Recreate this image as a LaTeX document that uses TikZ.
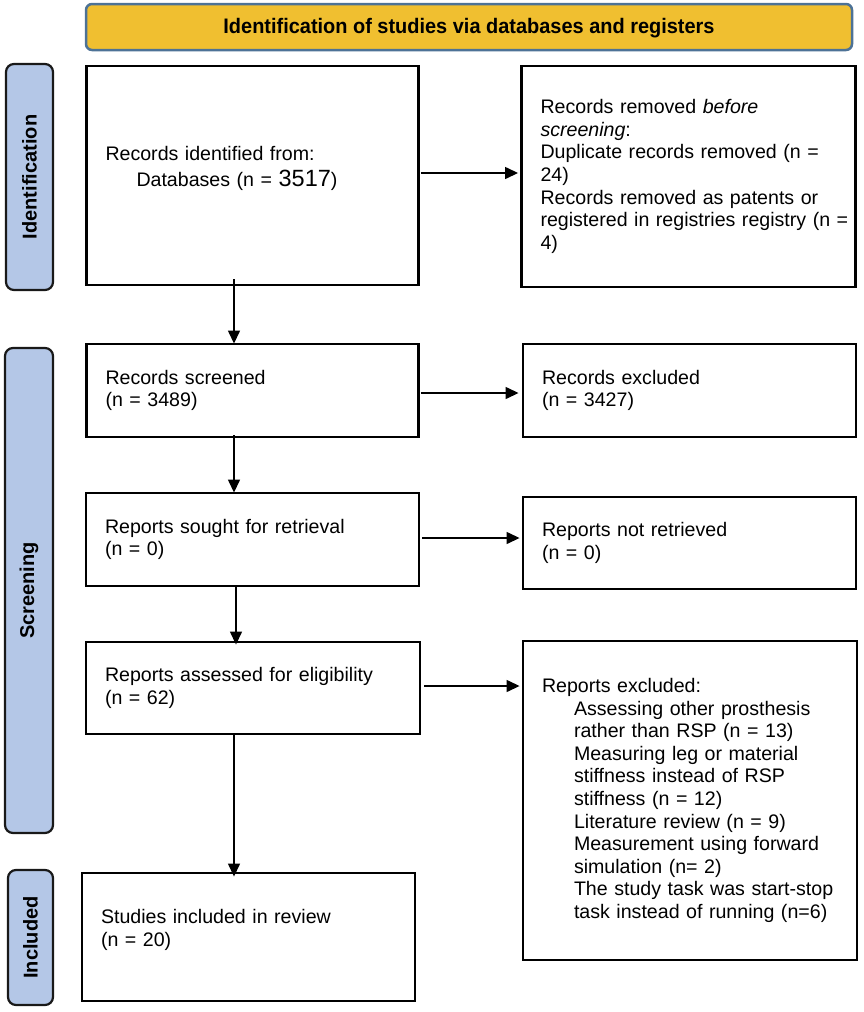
\documentclass[tikz,border=0pt]{standalone}
\usepackage{fontspec}
\setmainfont{Liberation Sans}
\newfontfamily\bannerfont[FakeStretch=0.95]{Liberation Sans}
\usetikzlibrary{arrows.meta}
\definecolor{bannerfill}{RGB}{240,191,48}
\definecolor{bannerdraw}{RGB}{77,114,150}
\definecolor{sidefill}{RGB}{180,199,231}
\definecolor{sidedraw}{RGB}{25,25,25}
\tikzset{
  box/.style={draw=black, fill=white, line width=2.9pt, rectangle, inner xsep=19pt, inner ysep=0pt,
    align=left, font=\fontsize{19.6}{22.6}\selectfont},
  side/.style={draw=sidedraw, fill=sidefill, line width=2.2pt, rounded corners=8pt, inner sep=0pt},
  sidetext/.style={font=\fontsize{20}{24}\selectfont\bfseries, rotate=90, inner sep=0pt},
  arr/.style={line width=1.4pt, -{Triangle[length=13pt,width=12pt]}},
}
\begin{document}
\begin{tikzpicture}[x=1pt,y=-1pt]
\useasboundingbox (0,0) rectangle (864,1012);
% banner
\node[draw=bannerdraw, fill=bannerfill, line width=2.5pt, rounded corners=6pt,
  minimum width=766pt, minimum height=46pt, inner sep=0pt] (banner) at (469,27) {};
\node[font=\bannerfont\bfseries\fontsize{21}{24}\selectfont, inner sep=0pt] (bannertext) at (469,28)
  {Identification of studies via databases and registers};
% side labels
\node[side, minimum width=47pt, minimum height=226pt] (sid) at (29.5,177) {};
\node[sidetext] (sidt) at (sid.center) {Identification};
\node[side, minimum width=48pt, minimum height=485pt] (ssc) at (29,590.5) {};
\node[sidetext] (ssct) at (ssc.center) {Screening};
\node[side, minimum width=45pt, minimum height=135pt] (sin) at (30.5,937.5) {};
\node[sidetext] (sint) at (sin.center) {Included};
% left column
\node[box, text width=294pt, minimum height=219pt] (id) at (252.5,175.5)
  {Records identified from:\\[3pt]\hspace*{31pt}Databases (n = {\fontsize{23.5}{24}\selectfont 3517})\\[-4pt]\mbox{}};
\node[box, text width=294pt, minimum height=93pt] (scr) at (252.5,390.5)
  {Records screened\\(n = 3489)};
\node[box, text width=295pt, minimum height=93pt] (sou) at (252.5,539.5)
  {Reports sought for retrieval\\(n = 0)};
\node[box, text width=296pt, minimum height=92pt] (ass) at (253,688)
  {Reports assessed for eligibility\\(n = 62)};
\node[box, text width=295pt, minimum height=128pt] (inc) at (248.5,937)
  {Studies included in review\\(n = 20)\\[-4pt]\mbox{}};
% right column
\node[box, text width=296pt, minimum height=221pt] (rem) at (688.5,176.5)
  {\mbox{Records removed \emph{before}}\\\mbox{\emph{screening}:}\\\mbox{Duplicate records removed (n =}\\24)\\\mbox{Records removed as patents or}\\\mbox{registered in registries registry (n =}\\4)};
\node[box, text width=295pt, minimum height=93pt] (exc) at (689.5,390.5)
  {Records excluded\\(n = 3427)};
\node[box, text width=295pt, minimum height=92pt] (nre) at (689.5,543)
  {Reports not retrieved\\(n = 0)};
\node[box, text width=296pt, minimum height=319pt] (rex) at (690,800.5)
  {Reports excluded:\\
   \hspace*{32pt}\mbox{Assessing other prosthesis}\\
   \hspace*{32pt}\mbox{rather than RSP (n = 13)}\\
   \hspace*{32pt}\mbox{Measuring leg or material}\\
   \hspace*{32pt}\mbox{stiffness instead of RSP}\\
   \hspace*{32pt}\mbox{stiffness (n = 12)}\\
   \hspace*{32pt}\mbox{Literature review (n = 9)}\\
   \hspace*{32pt}\mbox{Measurement using forward}\\
   \hspace*{32pt}\mbox{simulation (n= 2)}\\
   \hspace*{32pt}\mbox{The study task was start-stop}\\
   \hspace*{32pt}\mbox{task instead of running (n=6)}};
% connectors
\coordinate (colx) at (234,0);
\draw[arr] ([yshift=7pt]id.south -| colx) -- ([yshift=-1pt]scr.north -| colx);
\draw[arr] ([yshift=3pt]scr.south -| colx) -- ([yshift=-1pt]sou.north -| colx);
\draw[arr] ([xshift=2pt]sou.south -| colx) -- ([xshift=2pt,yshift=-4pt]ass.north -| colx);
\draw[arr] (ass.south -| colx) -- ([yshift=-5pt]inc.north -| colx);
\draw[arr] ([xshift=1pt,yshift=2.5pt]id.east) -- ([xshift=-2pt,yshift=2.5pt]id.east -| rem.west);
\draw[arr] ([xshift=1pt,yshift=-2.5pt]scr.east) -- ([xshift=-3pt,yshift=-2.5pt]scr.east -| exc.west);
\draw[arr] ([xshift=2pt,yshift=1.5pt]sou.east) -- ([xshift=-2pt,yshift=1.5pt]sou.east -| nre.west);
\draw[arr] ([xshift=3pt,yshift=2pt]ass.east) -- ([xshift=-2pt,yshift=2pt]ass.east -| rex.west);
\end{tikzpicture}
\end{document}
